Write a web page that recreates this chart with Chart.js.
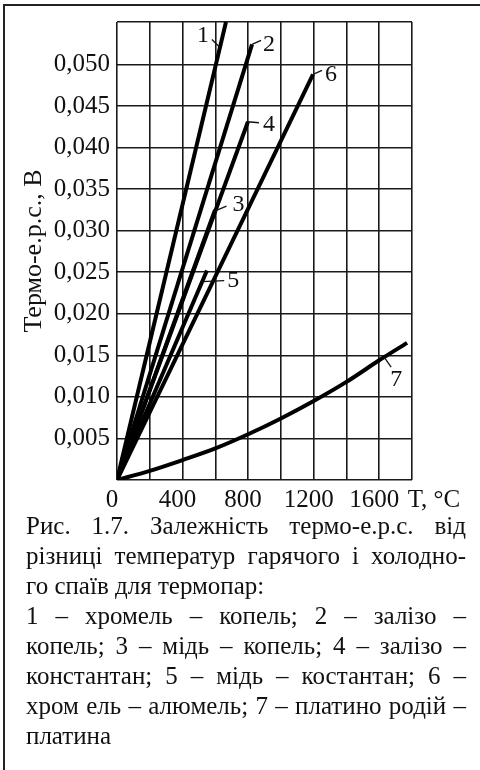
<!DOCTYPE html>
<html>
<head>
<meta charset="utf-8">
<script src="https://cdn.jsdelivr.net/npm/chart.js@4.4.1/dist/chart.umd.min.js"></script>
<style>
  html, body { margin: 0; padding: 0; background: #fff; }
  body { width: 480px; height: 770px; position: relative; overflow: hidden; font-family: "Liberation Serif", "Times New Roman", serif; color: #111; }
  .frame { position: absolute; left: 3px; top: 4px; width: 600px; height: 900px; border-left: 2px solid #222; border-top: 2px solid #222; }
  .plot { position: absolute; left: 0; top: 0; width: 480px; height: 520px; }
  .caption { position: absolute; left: 26px; top: 511px; width: 440px; font-size: 25px; line-height: 30px; }
  .caption div { white-space: nowrap; }
  .caption .j { text-align: justify; text-align-last: justify; }
</style>
</head>
<body>
<div class="frame"></div>
<div class="plot"><canvas id="chart" width="480" height="520"></canvas></div>
<div class="caption">
  <div class="j">Рис. 1.7. Залежність термо-е.р.с. від</div>
  <div class="j">різниці температур гарячого і холодно-</div>
  <div>го спаїв для термопар:</div>
  <div class="j">1 – хромель – копель; 2 – залізо –</div>
  <div class="j">копель; 3 – мідь – копель; 4 – залізо –</div>
  <div class="j">константан; 5 – мідь – костантан; 6 –</div>
  <div class="j">хром ель – алюмель; 7 – платино родій –</div>
  <div>платина</div>
</div>
<script>
// readings: temperature (°C) and thermo-emf (V)
const line1T = [0, 665];
const line1E = [0, 0.0551];
const line2T = [0, 824];
const line2E = [0, 0.0524];
const line3T = [0, 598];
const line3E = [0, 0.0325];
const line4T = [0, 799];
const line4E = [0, 0.0431];
const line5T = [0, 549];
const line5E = [0, 0.0252];
const line6T = [0, 1196];
const line6E = [0, 0.0488];
const line7T = [0, 200, 400, 600, 800, 1000, 1200, 1400, 1600, 1770];
const line7E = [0, 0.0011, 0.0024, 0.0038, 0.0055, 0.0074, 0.0095, 0.0118, 0.0144, 0.0165];

const curveNames = ['1', '2', '3', '4', '5', '6', '7'];
// temperature along each curve where its number is hooked on
const labelAtT = [628, 824, 595, 799, 520, 1196, 1630];

const xLabelValues = [0, 400, 800, 1200, 1600];
const xTitle = 'T, °C';
const yTitle = 'Термо-е.р.с., В';

const allT = [line1T, line2T, line3T, line4T, line5T, line6T, line7T];
const allE = [line1E, line2E, line3E, line4E, line5E, line6E, line7E];

const toPoints = (ts, es) => ts.map((t, i) => ({ x: t, y: es[i] }));

const valueAt = (ts, es, t) => {
  for (let i = 1; i < ts.length; i++) {
    if (t <= ts[i]) {
      const k = (t - ts[i - 1]) / (ts[i] - ts[i - 1]);
      return es[i - 1] + k * (es[i] - es[i - 1]);
    }
  }
  return es[es.length - 1];
};

// leader end and text offsets in px from the hook point
const hookStyle = [
  { lx: -8, ly: -8, tx: -17, ty: -12 },
  { lx: 9, ly: -4, tx: 17, ty: 0 },
  { lx: 12, ly: -5, tx: 24, ty: -7 },
  { lx: 11, ly: 1, tx: 21, ty: 3 },
  { lx: 22, ly: -1, tx: 31, ty: -1 },
  { lx: 9, ly: -4, tx: 18, ty: 0 },
  { lx: 7, ly: 10, tx: 12, ty: 22 },
];

const SERIF = '"Liberation Serif", "Times New Roman", serif';

const curveLabels = {
  id: 'curveLabels',
  afterDatasetsDraw(chart) {
    const { ctx, scales: { x, y } } = chart;
    ctx.save();
    ctx.strokeStyle = '#111';
    ctx.fillStyle = '#111';
    ctx.lineWidth = 1.3;
    ctx.font = '24px ' + SERIF;
    ctx.textAlign = 'center';
    ctx.textBaseline = 'middle';
    curveNames.forEach((name, i) => {
      const t = labelAtT[i];
      const px = x.getPixelForValue(t);
      const py = y.getPixelForValue(valueAt(allT[i], allE[i], t));
      const s = hookStyle[i];
      ctx.beginPath();
      ctx.moveTo(px, py);
      ctx.lineTo(px + s.lx, py + s.ly);
      ctx.stroke();
      ctx.fillText(name, px + s.tx, py + s.ty);
    });
    // axis name after the last temperature label
    ctx.font = '25px ' + SERIF;
    ctx.fillText(xTitle, chart.chartArea.right + 22, chart.chartArea.bottom + 20);
    ctx.restore();
  }
};

const datasets = allT.map((ts, i) => ({
  label: curveNames[i],
  data: toPoints(ts, allE[i]),
  borderColor: '#000',
  borderWidth: 4,
  pointRadius: 0,
  cubicInterpolationMode: i === 6 ? 'monotone' : 'default',
  tension: 0,
  borderCapStyle: 'butt',
  fill: false,
}));

new Chart(document.getElementById('chart'), {
  type: 'line',
  data: { datasets },
  plugins: [curveLabels],
  options: {
    responsive: false,
    animation: false,
    layout: { padding: { top: 17, right: 68, left: 0, bottom: 0 } },
    plugins: { legend: { display: false }, tooltip: { enabled: false } },
    scales: {
      x: {
        type: 'linear',
        min: 0,
        max: 1800,
        afterFit: (s) => { s.height = 40; },
        border: { display: false },
        grid: { color: '#1a1a1a', lineWidth: 1.6, drawTicks: false },
        ticks: {
          stepSize: 200,
          padding: 5,
          labelOffset: -5,
          maxRotation: 0,
          autoSkip: false,
          color: '#111',
          font: { family: SERIF, size: 25 },
          callback: (v) => xLabelValues.includes(v) ? String(v) : '',
        },
      },
      y: {
        min: 0,
        max: 0.0551,
        afterFit: (s) => { s.width = 117; },
        border: { display: false },
        grid: { color: '#1a1a1a', lineWidth: 1.6, drawTicks: false },
        title: {
          display: true,
          text: yTitle,
          color: '#111',
          font: { family: SERIF, size: 26 },
          padding: { top: 19, bottom: 0 },
        },
        ticks: {
          stepSize: 0.005,
          padding: 7,
          autoSkip: false,
          color: '#111',
          font: { family: SERIF, size: 25 },
          callback: (v) => {
            const k = Math.round(v / 0.005);
            if (k <= 0 || Math.abs(v - k * 0.005) > 1e-6) return '';
            return (k * 0.005).toFixed(3).replace('.', ',');
          },
        },
      },
    },
  },
});
</script>
</body>
</html>
